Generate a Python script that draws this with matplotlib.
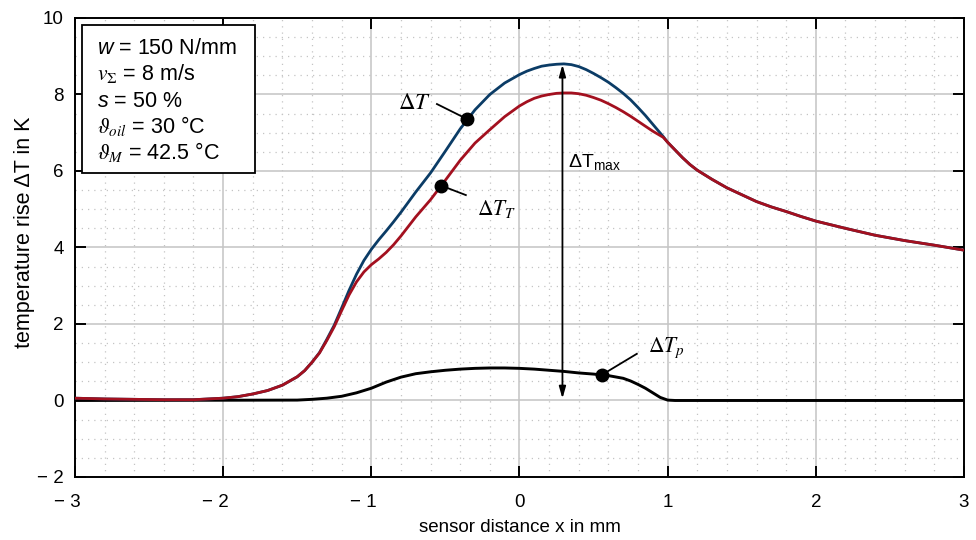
import matplotlib
matplotlib.use("Agg")
import matplotlib.pyplot as plt
from matplotlib.patches import Rectangle
from matplotlib.ticker import MultipleLocator

plt.rcParams['font.family'] = ['Liberation Sans', 'DejaVu Sans']
plt.rcParams['mathtext.fontset'] = 'custom'
plt.rcParams['mathtext.rm'] = 'Liberation Sans'
plt.rcParams['mathtext.it'] = 'Liberation Sans:italic'
plt.rcParams['mathtext.bf'] = 'Liberation Sans:bold'
plt.rcParams['mathtext.sf'] = 'Liberation Sans'

# ---------------- data ----------------
x_dT = [-3.0, -2.8, -2.6, -2.4, -2.2, -2.0, -1.9, -1.8, -1.7, -1.6, -1.5, -1.45, -1.4,
        -1.35, -1.3, -1.25, -1.2, -1.15, -1.1, -1.05, -1.0, -0.95, -0.9, -0.85, -0.8,
        -0.7, -0.6, -0.5, -0.4, -0.3, -0.2, -0.1, 0.0, 0.05, 0.1, 0.15, 0.2, 0.25, 0.3,
        0.35, 0.4, 0.45, 0.5, 0.55, 0.6, 0.65, 0.7, 0.75, 0.8, 0.85, 0.9, 0.97, 1.0,
        1.05, 1.1, 1.15, 1.2, 1.3, 1.4, 1.5, 1.6, 1.7, 1.8, 1.9, 2.0, 2.2, 2.4,
        2.6, 2.8, 3.0]
dT = [0.06, 0.04, 0.03, 0.02, 0.02, 0.06, 0.10, 0.17, 0.26, 0.40, 0.62, 0.78, 1.00,
      1.25, 1.60, 1.97, 2.42, 2.88, 3.30, 3.66, 3.95, 4.20, 4.43, 4.67, 4.92,
      5.45, 5.95, 6.52, 7.10, 7.60, 8.00, 8.30, 8.52, 8.61, 8.68, 8.74, 8.77, 8.79, 8.80,
      8.78, 8.73, 8.65, 8.55, 8.44, 8.32, 8.18, 8.03, 7.86, 7.66, 7.45, 7.22, 6.90, 6.75,
      6.55, 6.35, 6.17, 6.02, 5.78, 5.56, 5.38, 5.20, 5.06, 4.94, 4.81, 4.69, 4.50, 4.32,
      4.18, 4.06, 3.93]

x_dTT = [-3.0, -2.8, -2.6, -2.4, -2.2, -2.0, -1.9, -1.8, -1.7, -1.6, -1.5, -1.45, -1.4,
         -1.35, -1.3, -1.25, -1.2, -1.15, -1.1, -1.05, -1.0, -0.95, -0.9, -0.85, -0.8,
         -0.7, -0.6, -0.5, -0.4, -0.3, -0.2, -0.1, 0.0, 0.05, 0.1, 0.15, 0.2, 0.25, 0.3,
         0.35, 0.4, 0.45, 0.5, 0.55, 0.6, 0.65, 0.7, 0.75, 0.8, 0.85, 0.9, 0.97, 1.0,
         1.05, 1.1, 1.15, 1.2, 1.3, 1.4, 1.5, 1.6, 1.7, 1.8, 1.9, 2.0, 2.2, 2.4,
         2.6, 2.8, 3.0]
dTT = [0.06, 0.04, 0.03, 0.02, 0.02, 0.06, 0.10, 0.17, 0.26, 0.40, 0.62, 0.78, 1.00,
       1.24, 1.57, 1.93, 2.35, 2.76, 3.10, 3.36, 3.55, 3.70, 3.87, 4.07, 4.30,
       4.80, 5.25, 5.76, 6.28, 6.73, 7.08, 7.42, 7.70, 7.81, 7.90, 7.96, 8.00, 8.03, 8.04,
       8.04, 8.02, 7.98, 7.92, 7.85, 7.76, 7.66, 7.55, 7.43, 7.30, 7.17, 7.04, 6.88, 6.75,
       6.55, 6.35, 6.17, 6.02, 5.78, 5.56, 5.38, 5.20, 5.06, 4.94, 4.81, 4.69, 4.50, 4.32,
       4.18, 4.06, 3.93]

x_dTp = [-3.0, -1.5, -1.4, -1.3, -1.2, -1.1, -1.0, -0.9, -0.8, -0.7, -0.6, -0.5, -0.4,
         -0.3, -0.2, -0.1, 0.0, 0.1, 0.2, 0.3, 0.4, 0.5, 0.6, 0.7, 0.75, 0.8, 0.85,
         0.9, 0.95, 1.0, 1.05, 3.0]
dTp = [0.0, 0.01, 0.03, 0.06, 0.11, 0.20, 0.32, 0.48, 0.61, 0.70, 0.75, 0.79, 0.82,
       0.84, 0.85, 0.85, 0.84, 0.82, 0.79, 0.76, 0.72, 0.69, 0.65, 0.58, 0.51, 0.42, 0.32,
       0.20, 0.08, 0.01, 0.0, 0.0]

x_ticks = [-3, -2, -1, 0, 1, 2, 3]
x_ticklabels = ['− 3   ', '− 2   ', '− 1   ', '0', '1', '2', '3']
y_ticks = [-2, 0, 2, 4, 6, 8, 10]
y_ticklabels = ['− 2', '0', '2', '4', '6', '8', '10']

params = ['$w$ = 150 N/mm', r'$v_{\Sigma}$ = 8 m/s', '$s$ = 50 %',
          r'$\vartheta_{oil}$ = 30 °C', r'$\vartheta_{M}$ = 42.5 °C']
params_math = ['custom', 'stix', 'custom', 'stix', 'stix']

# annotation: label, point on curve, line start, text pos, ha
labels = [r'$\Delta T$', r'$\Delta T_T$', r'$\Delta T_p$']
label_pts = [(-0.355, 7.36), (-0.53, 5.62), (0.556, 0.67)]
label_line_start = [(-0.557, 7.75), (-0.362, 5.37), (0.792, 1.22)]
label_text_pos = [(-0.60, 7.62), (-0.29, 4.84), (0.87, 1.28)]
label_ha = ['right', 'left', 'left']
label_size = [16.5, 15.5, 15.5]

dTmax_x = 0.29
dTmax_range = (0.05, 8.78)

# ---------------- figure ----------------
fig = plt.figure(figsize=(9.76, 5.4), dpi=100)
ax = fig.add_axes([0.0768, 0.1167, 0.9109, 0.85])

ax.set_xlim(-3, 3)
ax.set_ylim(-2, 10)
ax.xaxis.set_minor_locator(MultipleLocator(0.2))
ax.yaxis.set_minor_locator(MultipleLocator(0.5))
ax.grid(which='major', color='#c4c4c4', lw=1.1, zorder=0)
ax.grid(which='minor', color='#c4c4c4', lw=0.9, ls=(0, (1, 4)), zorder=0)
ax.set_axisbelow(True)

ax.plot(x_dTp, dTp, color='black', lw=2.1, zorder=3)
ax.plot(x_dT, dT, color='#0b3c66', lw=2.0, zorder=3)
ax.plot(x_dTT, dTT, color='#a3101f', lw=2.0, zorder=3)

for lab, pt, ls, tp, ha, fs in zip(labels, label_pts, label_line_start, label_text_pos,
                                   label_ha, label_size):
    ax.plot([ls[0], pt[0]], [ls[1], pt[1]], color='black', lw=1.3, zorder=4)
    ax.plot([pt[0]], [pt[1]], 'o', color='black', ms=9, zorder=4)
    ax.text(tp[0], tp[1], lab, ha=ha, va='baseline', fontsize=fs,
            math_fontfamily='stix', zorder=6)

ax.annotate('', xy=(dTmax_x, dTmax_range[1]), xytext=(dTmax_x, dTmax_range[0]),
            arrowprops=dict(arrowstyle='<|-|>,head_length=0.7,head_width=0.2',
                            color='black', lw=1.3, shrinkA=0, shrinkB=0), zorder=4)
ax.text(dTmax_x + 0.035, 6.1, r'ΔT$_{\mathregular{max}}$', ha='left', va='baseline',
        fontsize=14, math_fontfamily='custom', zorder=6)

ax.set_xticks(x_ticks, x_ticklabels)
ax.set_yticks(y_ticks, y_ticklabels)
ax.tick_params(which='major', direction='in', length=8, width=1.4, top=True, right=True,
               labelsize=13.5, colors='black')
ax.tick_params(axis='x', which='major', pad=12)
ax.tick_params(axis='y', which='major', pad=8)
ax.tick_params(which='minor', length=0)
for sp in ax.spines.values():
    sp.set_linewidth(1.4)

ax.set_xlabel('sensor distance x in mm', fontsize=13.5, labelpad=6)
ax.set_ylabel('temperature rise ΔT in K', fontsize=15.5, labelpad=2)
ax.yaxis.set_label_coords(-0.045, 0.534)

# parameter box
ax.add_patch(Rectangle((0.0079, 0.6623), 0.1946, 0.3224, transform=ax.transAxes,
                       facecolor='white', edgecolor='black', lw=1.3, zorder=5))
ybase = [0.9216, 0.8649, 0.8061, 0.7495, 0.6928]
for txt, mf, yb in zip(params, params_math, ybase):
    ax.text(0.0247, yb, txt, transform=ax.transAxes, ha='left', va='baseline',
            fontsize=15.5, math_fontfamily=mf, zorder=6)

fig.savefig('out.png', dpi=100)
